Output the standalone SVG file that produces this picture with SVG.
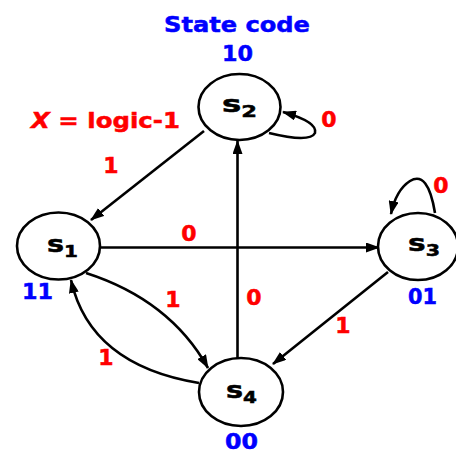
<svg xmlns="http://www.w3.org/2000/svg" width="456" height="450" viewBox="0 0 456 450">
<defs>
<marker id="arr" viewBox="0 0 14 10" refX="13" refY="5" markerWidth="14" markerHeight="10" markerUnits="userSpaceOnUse" orient="auto">
<path d="M0,0 L14,5 L0,10 z" fill="#000"/>
</marker>
<style>
.node ellipse{fill:#fff;stroke:#000;stroke-width:2.6}
.edge{fill:none;stroke:#000;stroke-width:2.6;marker-end:url(#arr)}
.st{font-family:"DejaVu Sans",Verdana,sans-serif;font-weight:bold;font-size:23px;fill:#000;stroke:#000;stroke-width:0.5}
.sub{font-size:16px}
.red{font-family:"DejaVu Sans",Verdana,sans-serif;font-weight:bold;font-size:22px;fill:#ff0000;stroke:#ff0000;stroke-width:0.5}
.blue{font-family:"DejaVu Sans",Verdana,sans-serif;font-weight:bold;font-size:22px;fill:#0000ff;stroke:#0000ff;stroke-width:0.5}
</style>
</defs>
<g id="connectors">
<path class="edge" d="M204,131 L91,220"/>
<path class="edge" d="M100,247.5 L379,247.5"/>
<path class="edge" d="M237.5,358 L237.5,141"/>
<path class="edge" d="M388,272 L273,364"/>
<path class="edge" d="M86,273 Q170,300 208,368"/>
<path class="edge" d="M199,383 Q90,365 71,280"/>
<path class="edge" d="M269,133 Q310,143 315,133 Q318,122 283,112"/>
<path class="edge" d="M435,213 Q428,170 410,181 Q396,190 391,214"/>
</g>
<g id="s2" class="node"><ellipse cx="239.5" cy="107" rx="41" ry="33"/><text class="st" x="222" y="112" textLength="35" lengthAdjust="spacingAndGlyphs">s<tspan class="sub" dy="5">2</tspan></text></g>
<g id="s1" class="node"><ellipse cx="58.5" cy="246" rx="41.5" ry="33.5"/><text class="st" x="47" y="252" textLength="31" lengthAdjust="spacingAndGlyphs">s<tspan class="sub" dy="5">1</tspan></text></g>
<g id="s3" class="node"><ellipse cx="418" cy="246.5" rx="40" ry="33.5"/><text class="st" x="408" y="251" textLength="32" lengthAdjust="spacingAndGlyphs">s<tspan class="sub" dy="5">3</tspan></text></g>
<g id="s4" class="node"><ellipse cx="241" cy="392" rx="42" ry="34"/><text class="st" x="226" y="398" textLength="31" lengthAdjust="spacingAndGlyphs">s<tspan class="sub" dy="5">4</tspan></text></g>
<g id="labels">
<text class="blue" x="164" y="32" textLength="146" lengthAdjust="spacingAndGlyphs">State code</text>
<text class="blue" x="222" y="61" textLength="31" lengthAdjust="spacingAndGlyphs">10</text>
<text class="blue" x="22" y="299" textLength="31" lengthAdjust="spacingAndGlyphs">11</text>
<text class="blue" x="408" y="304" textLength="29" lengthAdjust="spacingAndGlyphs">01</text>
<text class="blue" x="225" y="449" textLength="33" lengthAdjust="spacingAndGlyphs">00</text>
<text class="red" x="31" y="128" textLength="149" lengthAdjust="spacingAndGlyphs"><tspan font-style="italic">X</tspan> = logic-1</text>
<text class="red" x="329" y="127" text-anchor="middle">0</text>
<text class="red" x="111" y="173" text-anchor="middle">1</text>
<text class="red" x="189" y="241" text-anchor="middle">0</text>
<text class="red" x="441" y="193" text-anchor="middle">0</text>
<text class="red" x="254" y="305" text-anchor="middle">0</text>
<text class="red" x="173" y="307" text-anchor="middle">1</text>
<text class="red" x="343" y="333" text-anchor="middle">1</text>
<text class="red" x="106" y="365" text-anchor="middle">1</text>
</g>
</svg>
